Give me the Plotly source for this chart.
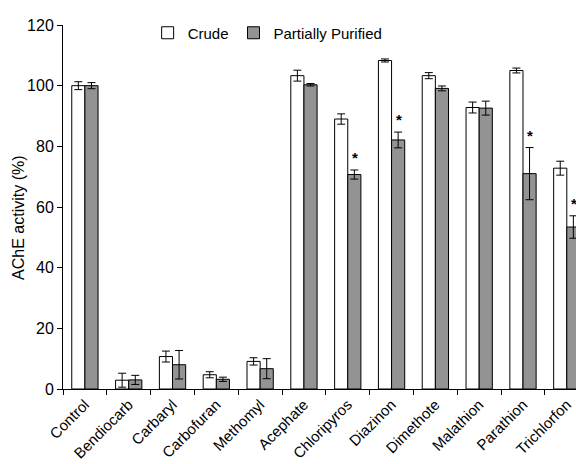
import plotly.graph_objects as go

categories = ["Control", "Bendiocarb", "Carbaryl", "Carbofuran", "Methomyl", "Acephate",
              "Chloripyros", "Diazinon", "Dimethote", "Malathion", "Parathion", "Trichlorfon"]
crude = [100.0, 2.9, 10.7, 4.7, 9.1, 103.3, 89.0, 108.3, 103.3, 92.8, 105.0, 72.8]
crude_err = [1.3, 2.3, 1.8, 1.0, 1.2, 1.8, 1.7, 0.5, 1.0, 1.8, 0.8, 2.3]
purified = [100.0, 3.0, 8.0, 3.2, 6.7, 100.3, 70.7, 82.1, 99.1, 92.6, 71.0, 53.4]
purified_err = [1.0, 1.5, 4.7, 0.7, 3.3, 0.4, 1.5, 2.6, 0.8, 2.3, 8.6, 3.7]
significant = [False, False, False, False, False, False, True, True, False, False, True, True]
y_title = "AChE activity (%)"

FONT = "Arial, Liberation Sans, sans-serif"

fig = go.Figure()
fig.add_trace(go.Bar(
    x=categories, y=crude, name="Crude",
    marker=dict(color="white", line=dict(color="black", width=1)),
    error_y=dict(type="data", array=crude_err, color="black", thickness=1, width=4),
))
fig.add_trace(go.Bar(
    x=categories, y=purified, name="Partially Purified",
    marker=dict(color="#939393", line=dict(color="black", width=1)),
    error_y=dict(type="data", array=purified_err, color="black", thickness=1, width=4),
))

for c, v, e, s in zip(categories, purified, purified_err, significant):
    if s:
        fig.add_annotation(x=c, y=v + e, text="<b>*</b>", showarrow=False,
                           xshift=7, yshift=2, yanchor="bottom",
                           font=dict(family=FONT, size=15, color="black"))

fig.add_annotation(text=y_title, xref="paper", yref="paper", x=-0.0858, y=0.47,
                   textangle=-90, showarrow=False, xanchor="center", yanchor="middle",
                   font=dict(family=FONT, size=16, color="black"))

fig.update_layout(
    width=576, height=464,
    margin=dict(l=63, r=0, t=25, b=75, autoexpand=False),
    plot_bgcolor="white", paper_bgcolor="white",
    barmode="group", bargap=0.4, bargroupgap=0,
    font=dict(family=FONT, size=15, color="black"),
    legend=dict(orientation="h", x=0.165, y=0.978, xanchor="left", yanchor="middle",
                font=dict(family=FONT, size=15), bgcolor="rgba(0,0,0,0)",
                itemwidth=30, traceorder="normal"),
    showlegend=True,
)
fig.update_xaxes(
    type="category", range=[-0.5, 11.21], tickangle=-45, automargin=False,
    showline=True, linecolor="black", linewidth=1,
    ticks="outside", tickson="boundaries", ticklen=5, tickcolor="black",
    showgrid=False, tickfont=dict(family=FONT, size=15),
)
fig.update_yaxes(
    range=[0, 120], dtick=20, showline=True, linecolor="black", linewidth=1,
    ticks="outside", ticklen=5, tickcolor="black", showgrid=False, zeroline=False,
    automargin=False,
    tickfont=dict(family=FONT, size=16),
)

fig.write_html(
    "out.html",
    config={"displayModeBar": False},
    post_script="document.body.style.margin='0';document.body.style.overflow='hidden';",
)
